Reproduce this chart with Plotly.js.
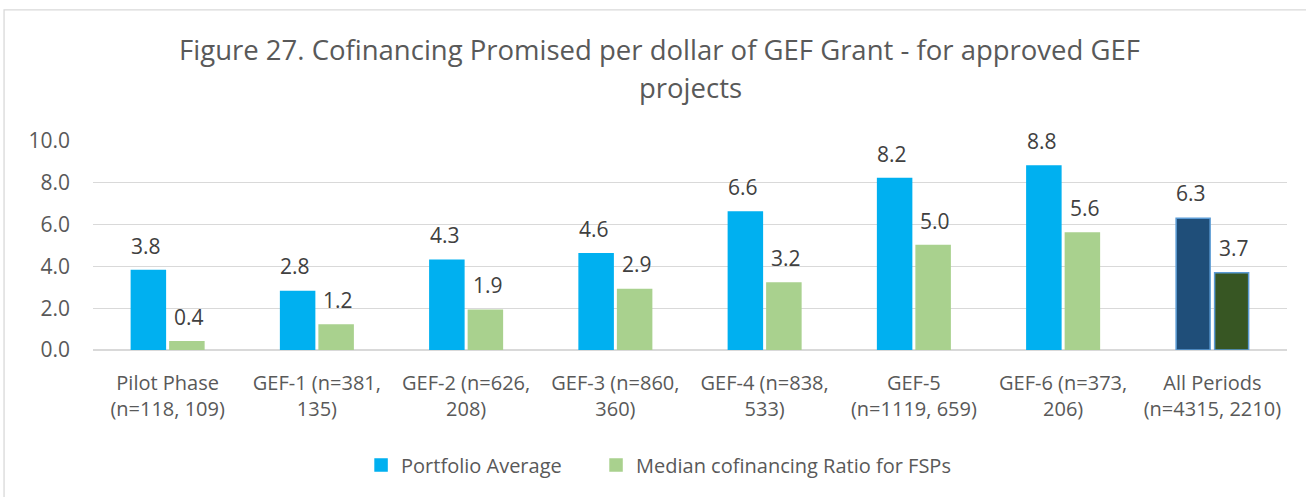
<!DOCTYPE html>
<html>
<head>
<meta charset="utf-8">
<script src="https://cdn.plot.ly/plotly-3.0.1.min.js"></script>
<style>
  body { margin: 0; background: #fff; }
  #chart { width: 1306px; height: 497px; }
</style>
</head>
<body>
<div id="chart"></div>
<script>
// categories and values
var categories = [
  "Pilot Phase<br>(n=118, 109)",
  "GEF-1 (n=381,<br>135)",
  "GEF-2 (n=626,<br>208)",
  "GEF-3 (n=860,<br>360)",
  "GEF-4 (n=838,<br>533)",
  "GEF-5<br>(n=1119, 659)",
  "GEF-6 (n=373,<br>206)",
  "All Periods<br>(n=4315, 2210)"
];
var portfolioAvg = [3.8, 2.8, 4.3, 4.6, 6.6, 8.2, 8.8, 6.3];
var medianFSP = [0.4, 1.2, 1.9, 2.9, 3.2, 5.0, 5.6, 3.7];
var yTicks = [0, 2, 4, 6, 8, 10];
var titleLines = ["Figure 27. Cofinancing Promised per dollar of GEF Grant - for approved GEF", "projects"];

var FONT = "'Open Sans', sans-serif";
var last = categories.length - 1;

// last category is drawn darker, with a light blue outline
var blueColors = categories.map(function (c, i) { return i === last ? "#1F4E79" : "#00B0F0"; });
var greenColors = categories.map(function (c, i) { return i === last ? "#375623" : "#A9D18E"; });
var blueLines = categories.map(function (c, i) { return i === last ? "#5B9BD5" : "#00B0F0"; });
var greenLines = categories.map(function (c, i) { return i === last ? "#5B9BD5" : "#A9D18E"; });

var data = [
  {
    type: "bar", name: "Portfolio Average", legend: "legend",
    x: categories, y: portfolioAvg,
    marker: { color: blueColors, line: { color: blueLines, width: 1.5 } },
    hoverinfo: "none"
  },
  {
    type: "bar", name: "Median cofinancing Ratio for FSPs", legend: "legend2",
    x: categories, y: medianFSP,
    marker: { color: greenColors, line: { color: greenLines, width: 1.5 } },
    hoverinfo: "none"
  }
];

// value labels above the bars
var annotations = [];
categories.forEach(function (c, i) {
  annotations.push({ x: c, y: portfolioAvg[i], text: portfolioAvg[i].toFixed(1), xshift: -21.5, yshift: 9,
    yanchor: "bottom", showarrow: false, font: { family: FONT, size: 21, color: "#404040" } });
  annotations.push({ x: c, y: medianFSP[i], text: medianFSP[i].toFixed(1), xshift: 21.5, yshift: 9,
    yanchor: "bottom", showarrow: false, font: { family: FONT, size: 21, color: "#404040" } });
});
// second title line, set apart like in the original
annotations.push({ xref: "paper", yref: "paper", x: 0.5, y: (350 - 88) / 209, yanchor: "middle",
  text: titleLines[1], showarrow: false, font: { family: FONT, size: 27.5, color: "#595959" } });

var legendStyle = {
  orientation: "h", xanchor: "left", y: -0.55, yanchor: "middle",
  font: { family: FONT, size: 20, color: "#595959" }, itemwidth: 30
};

var layout = {
  width: 1306, height: 497,
  margin: { l: 93, r: 19, t: 141, b: 147 },
  paper_bgcolor: "#fff", plot_bgcolor: "#fff",
  font: { family: FONT, color: "#595959" },
  title: {
    text: titleLines[0],
    font: { family: FONT, size: 27.5, color: "#595959" },
    x: 0.505, xanchor: "center", y: 1 - 50 / 497, yanchor: "middle"
  },
  barmode: "group", bargap: 0.484, bargroupgap: 0.117,
  xaxis: {
    tickfont: { family: FONT, size: 20, color: "#595959" },
    showline: false, ticks: "", showgrid: false, ticklabelstandoff: 19
  },
  yaxis: {
    range: [0, 10], tickvals: yTicks, tickformat: ".1f",
    tickfont: { family: FONT, size: 21, color: "#595959" },
    gridcolor: "#D9D9D9", gridwidth: 1.3, zeroline: true, zerolinecolor: "#D9D9D9", zerolinewidth: 1.3,
    ticks: "", showline: false, ticklabelstandoff: 22
  },
  showlegend: true,
  legend: Object.assign({ x: 0.2245 }, legendStyle),
  legend2: Object.assign({ x: 0.4213 }, legendStyle),
  annotations: annotations,
  shapes: [{
    type: "rect", xref: "paper", yref: "paper",
    x0: -0.0745, x1: 1.05, y0: -1, y1: 1.627,
    line: { color: "#D9D9D9", width: 1.3 }, fillcolor: "rgba(0,0,0,0)", layer: "below"
  }]
};

Plotly.newPlot("chart", data, layout, { displayModeBar: false, staticPlot: true });
</script>
</body>
</html>
